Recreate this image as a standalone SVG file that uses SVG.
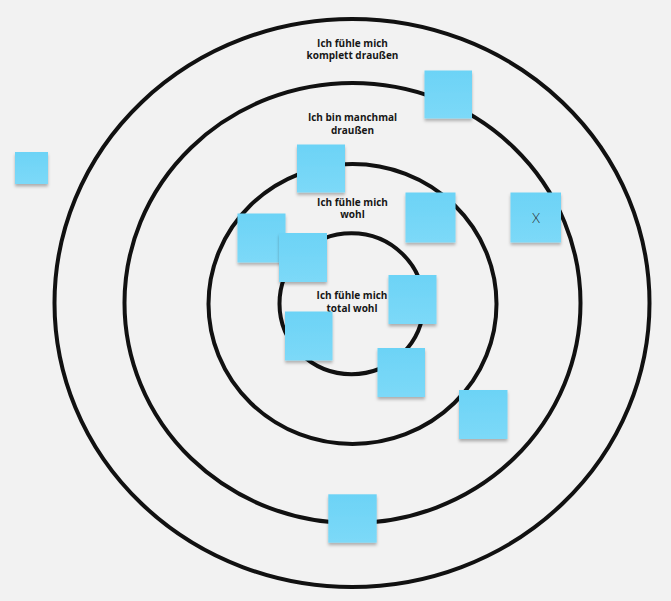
<svg xmlns="http://www.w3.org/2000/svg" width="671" height="601" viewBox="0 0 671 601">
  <defs>
    <filter id="sh" x="-20%" y="-20%" width="140%" height="150%">
      <feDropShadow dx="0" dy="2.5" stdDeviation="1.6" flood-color="#000" flood-opacity="0.28"/>
    </filter>
    <linearGradient id="sg" x1="0" y1="0" x2="0" y2="1">
      <stop offset="0" stop-color="#6cd3f6"/>
      <stop offset="1" stop-color="#7cd9f8"/>
    </linearGradient>
  </defs>
  <style>
    .ring { fill: none; stroke: #111; stroke-width: 4; }
    .lbl { font-family: "Open Sans", Lato, "Liberation Sans", sans-serif; font-weight: bold; font-size: 10px; fill: #161616; text-anchor: middle; }
    .note { fill: url(#sg); filter: url(#sh); }
    .x { font-family: Lato, "Open Sans", "Liberation Sans", sans-serif; font-weight: 300; font-size: 13px; fill: #2a2a2a; text-anchor: middle; }
  </style>
  <rect width="671" height="601" fill="#f2f2f2"/>
  <g id="rings">
    <ellipse id="ring-outer" class="ring" cx="352" cy="303" rx="297.5" ry="284"/>
    <ellipse id="ring-2" class="ring" cx="352.5" cy="303" rx="228" ry="220"/>
    <ellipse id="ring-3" class="ring" cx="352.5" cy="304" rx="144" ry="140"/>
    <ellipse id="ring-inner" class="ring" cx="351.5" cy="303.7" rx="72" ry="70.5"/>
  </g>
  <g id="connectors"/>
  <g id="label-outer">
    <text class="lbl" x="352.5" y="46.5">Ich fühle mich</text>
    <text class="lbl" x="352.5" y="59">komplett draußen</text>
  </g>
  <g id="label-2">
    <text class="lbl" x="352.5" y="121">Ich bin manchmal</text>
    <text class="lbl" x="352.5" y="133.5">draußen</text>
  </g>
  <g id="label-3">
    <text class="lbl" x="352.5" y="205.5">Ich fühle mich</text>
    <text class="lbl" x="352.5" y="218">wohl</text>
  </g>
  <g id="label-inner">
    <text class="lbl" x="352" y="299">Ich fühle mich</text>
    <text class="lbl" x="352" y="312">total wohl</text>
  </g>
  <g id="note-1"><rect class="note" x="424.5" y="70.5" width="47.5" height="48"/></g>
  <g id="note-2"><rect class="note" x="15" y="152" width="33" height="32"/></g>
  <g id="note-3"><rect class="note" x="297" y="144.5" width="48" height="48"/></g>
  <g id="note-4"><rect class="note" x="405.5" y="192.5" width="50" height="50"/></g>
  <g id="note-5"><rect class="note" x="510.5" y="192.5" width="50.5" height="50"/><text class="x" x="536" y="222.5">X</text></g>
  <g id="note-6"><rect class="note" x="237.5" y="213.5" width="48" height="49"/></g>
  <g id="note-7"><rect class="note" x="279" y="233" width="48" height="49"/></g>
  <g id="note-8"><rect class="note" x="388.5" y="275" width="48" height="49"/></g>
  <g id="note-9"><rect class="note" x="285" y="311.5" width="47.5" height="49"/></g>
  <g id="note-10"><rect class="note" x="377.5" y="348" width="47.5" height="49"/></g>
  <g id="note-11"><rect class="note" x="459" y="390" width="48.5" height="49"/></g>
  <g id="note-12"><rect class="note" x="328.3" y="494.3" width="48.4" height="48.4"/></g>
</svg>
